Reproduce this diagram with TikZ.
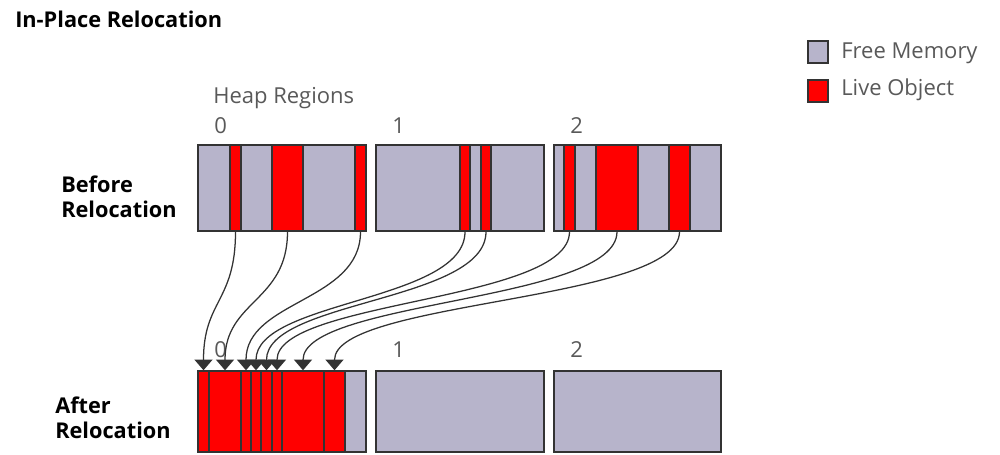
\documentclass[tikz,border=0pt]{standalone}
\usepackage{fontspec}
\setmainfont{Open Sans}
\usetikzlibrary{arrows.meta, fit}
\definecolor{grisLibre}{RGB}{183, 180, 203}
\definecolor{rougeVivant}{RGB}{255, 0, 0}
\definecolor{griBord}{RGB}{51, 51, 51}
\definecolor{griTexte}{RGB}{89, 89, 89}

\begin{document}
\begin{tikzpicture}[x=0.75pt, y=-0.75pt,
  free/.style={draw=griBord, fill=grisLibre, line width=1.1pt, inner sep=0pt},
  live/.style={draw=griBord, fill=rougeVivant, line width=1.1pt, inner sep=0pt},
  mv/.style={-{Triangle[length=8pt, width=13.5pt]}, draw=griBord, fill=none,
    line width=0.95pt},
  lbl/.style={font=\fontsize{16.5}{20}\selectfont, text=griTexte,
    anchor=base west, inner sep=0pt},
  ttl/.style={font=\bfseries\fontsize{16.3}{18.75}\selectfont, align=left,
    inner sep=0pt},
]
\useasboundingbox (0,0) rectangle (1000,454);

% titles
\node[ttl, anchor=base west] (title) at (15,27) {In-Place Relocation};
\node[lbl] (heap) at (213,103) {Heap Regions};
\node[ttl, anchor=west] (before) at (61,197) {Before\\Relocation};
\node[ttl, anchor=west] (after) at (55,418) {After\\Relocation};

% heap regions, before and after
\foreach \n/\l/\r in {0/198/366, 1/376/544, 2/554/721} {
  \node[free, fit={(\l,145)(\r,231)}] (top\n) {};
  \node[free, fit={(\l,371)(\r,452)}] (bot\n) {};
  \node[lbl] (numTop\n) at (\l+16,133) {\n};
  \node[lbl] (numBot\n) at (\l+16,357) {\n};
}

% live objects before relocation
\foreach \n/\l/\r in {b0a/230/241, b0b/272/303, b0c/355/366,
                      b1a/460/470, b1b/481/491,
                      b2a/564/575, b2b/596/638, b2c/669/690}
  \node[live, fit={(\l,145)(\r,231)}] (\n) {};

% live objects after relocation
\foreach \n/\l/\r in {a0a/198/209, a0b/209/241, a0c/241/251,
                      a1a/251/261, a1b/261/272,
                      a2a/272/282, a2b/282/324, a2c/324/345}
  \node[live, fit={(\l,371)(\r,452)}] (\n) {};

% moves
\foreach \s/\d in {b0a/a0a, b0b/a0b, b0c/a0c, b1a/a1a,
                   b1b/a1b, b2a/a2a, b2b/a2b, b2c/a2c}
  \draw[mv] (\s.south) .. controls +(0,70) and +(0,-70) .. (\d.north);

% legend
\node[free, fit={(808,41)(828,63)}] (keyFree) {};
\node[live, fit={(808,80)(828,102)}] (keyLive) {};
\node[lbl] (txtFree) at (841,58) {Free Memory};
\node[lbl] (txtLive) at (841,95) {Live Object};
\end{tikzpicture}
\end{document}
